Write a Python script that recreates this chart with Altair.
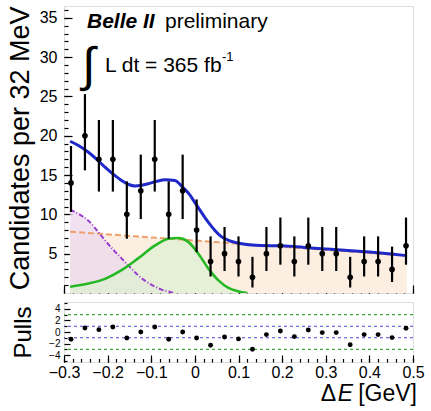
import altair as alt
import pandas as pd

FONT = "Liberation Sans"

# ---------------- values ----------------
bin_centers = [-0.284, -0.252, -0.220, -0.188, -0.156, -0.124, -0.092, -0.060, -0.028, 0.004,
               0.036, 0.068, 0.100, 0.132, 0.164, 0.196, 0.228, 0.260, 0.292, 0.324,
               0.356, 0.388, 0.420, 0.452, 0.484]
counts = [14, 20, 17, 17, 10, 13, 17, 10, 13, 8, 4, 5, 4, 2, 5, 6, 4, 6, 5, 5, 2, 4, 4, 3, 6]
err_low = [10.3, 15.6, 12.9, 12.9, 6.9, 9.4, 12.9, 6.9, 9.4, 5.2, 2.1, 2.8, 2.1, 0.7, 2.8,
           3.6, 2.1, 3.6, 2.8, 2.8, 0.7, 2.1, 2.1, 1.4, 3.6]
err_high = [18.7, 25.3, 22.0, 22.0, 14.2, 17.6, 22.0, 14.2, 17.6, 11.9, 7.2, 8.4, 7.2, 4.6, 8.4,
            9.6, 7.2, 9.6, 8.4, 8.4, 4.6, 7.2, 7.2, 5.9, 9.6]
pulls = [-1.26, 0.7, 0.41, 0.87, -1.03, 0.0, 0.87, -1.26, 0.0, -1.03, -2.3, -0.86, -1.2,
         -3.0, -0.45, 0.17, -0.8, 0.35, -0.1, -0.1, -2.2, -0.45, -0.45, -0.97, 0.64]

fit_x = [-0.286, -0.265, -0.244, -0.225, -0.206, -0.187, -0.168, -0.152, -0.137, -0.122,
         -0.107, -0.088, -0.068, -0.046, -0.027, -0.012, 0.0, 0.012, 0.023, 0.035, 0.046,
         0.06, 0.077, 0.095, 0.115, 0.15, 0.2, 0.25, 0.3, 0.35, 0.4, 0.45, 0.486]
fit_y = [19.3, 18.7, 17.9, 17.0, 16.0, 15.1, 14.3, 13.8, 13.6, 13.7, 13.9, 14.2, 14.4, 14.3,
         13.4, 12.5, 11.5, 10.5, 9.6, 8.7, 7.95, 7.2, 6.7, 6.4, 6.2, 6.05, 6.0, 5.8, 5.6, 5.4,
         5.2, 4.95, 4.75]
bkg_x = [-0.286, 0.486]
bkg_y = [7.8, 4.75]
peak_x = [-0.286, -0.265, -0.244, -0.225, -0.206, -0.187, -0.168, -0.149, -0.13, -0.11,
          -0.091, -0.075, -0.061, -0.05]
peak_y = [10.6, 10.0, 9.2, 8.0, 6.7, 5.5, 4.4, 3.3, 2.25, 1.4, 0.8, 0.4, 0.2, 0.05]
sig_x = [-0.286, -0.244, -0.206, -0.168, -0.13, -0.091, -0.061, -0.038, -0.015, 0.008,
         0.031, 0.054, 0.077, 0.1, 0.12]
sig_y = [0.8, 1.2, 1.8, 2.9, 4.4, 6.05, 6.9, 7.0, 6.5, 5.0, 3.1, 1.6, 0.65, 0.2, 0.0]

pull_lines_1 = [-1, 1]
pull_lines_3 = [-3, 3]

x_major = [-0.3, -0.2, -0.1, 0.0, 0.1, 0.2, 0.3, 0.4, 0.5]
x_minor = [-0.3, -0.28, -0.26, -0.24, -0.22, -0.2, -0.18, -0.16, -0.14, -0.12, -0.1, -0.08,
           -0.06, -0.04, -0.02, 0.0, 0.02, 0.04, 0.06, 0.08, 0.1, 0.12, 0.14, 0.16, 0.18, 0.2,
           0.22, 0.24, 0.26, 0.28, 0.3, 0.32, 0.34, 0.36, 0.38, 0.4, 0.42, 0.44, 0.46, 0.48, 0.5]
y_major = [5, 10, 15, 20, 25, 30, 35]
y_minor = [1, 2, 3, 4, 5, 6, 7, 8, 9, 10, 11, 12, 13, 14, 15, 16, 17, 18, 19, 20, 21, 22, 23,
           24, 25, 26, 27, 28, 29, 30, 31, 32, 33, 34, 35, 36]
pull_major = [-4, -2, 0, 2, 4]
pull_minor = [-5, -3, -1, 1, 3, 5]

label_belle = "Belle II"
label_prelim = "preliminary"
label_int = "∫"
label_lumi = "L dt = 365 fb"
label_sup = "-1"
y_title = "Candidates per 32 MeV"
pull_title = "Pulls"
x_title_delta = "Δ"
x_title_e = "E"
x_title_unit = "[GeV]"

# ---------------- tables ----------------
pts = pd.DataFrame({"x": bin_centers, "y": counts, "lo": err_low, "hi": err_high})
pull_df = pd.DataFrame({"x": bin_centers, "y": pulls})
fit_df = pd.DataFrame({"x": fit_x, "y": fit_y})
bkg_df = pd.DataFrame({"x": bkg_x, "y": bkg_y})
peak_df = pd.DataFrame({"x": peak_x, "y": peak_y})
sig_df = pd.DataFrame({"x": sig_x, "y": sig_y})

W, H, HP = 349, 287, 60

xs = alt.Scale(domain=[-0.3, 0.5], nice=False, zero=False)
ys = alt.Scale(domain=[0, 36.5], nice=False, zero=False)
ps = alt.Scale(domain=[-5.2, 5.2], nice=False, zero=False)

common = dict(domain=False, grid=False, tickColor="black", tickWidth=1.2,
              labelColor="black", labelFont=FONT, titleFont=FONT, titleColor="black",
              titleFontWeight="normal", labelOverlap=False, labelFlush=False)

top_x_axis = alt.Axis(values=x_major, labels=False, title=None, tickSize=8, offset=-8,
                      orient="bottom", **common)
top_x_minor = alt.Axis(values=x_minor, labels=False, title=None, tickSize=4, offset=-4,
                       orient="bottom", **common)
top_y_axis = alt.Axis(values=y_major, title=y_title, titleFontSize=27, titlePadding=5,
                      titleAnchor="end", labelFontSize=16, labelPadding=7, tickSize=8,
                      offset=-8, orient="left", **common)
top_y_minor = alt.Axis(values=y_minor, labels=False, title=None, tickSize=4, offset=-4,
                       orient="left", **common)


def X(axis):
    return alt.X("x:Q", scale=xs, axis=axis)


def Y(axis, field="y:Q"):
    return alt.Y(field, scale=ys, axis=axis)


bkg_area = alt.Chart(bkg_df).mark_area(color="#fcefe2", opacity=1, clip=True).encode(
    x=X(top_x_axis), y=Y(top_y_axis))
peak_area = alt.Chart(peak_df).mark_area(color="#ecd8ee", opacity=0.75, clip=True).encode(
    x=X(top_x_axis), y=Y(top_y_axis))
sig_area = alt.Chart(sig_df).mark_area(color="#dff0d2", opacity=0.75, clip=True).encode(
    x=X(top_x_axis), y=Y(top_y_axis))
bkg_line = alt.Chart(bkg_df).mark_line(color="#f0a068", strokeWidth=2, strokeDash=[6, 3],
                                       clip=True).encode(x=X(top_x_axis), y=Y(top_y_axis))
peak_line = alt.Chart(peak_df).mark_line(color="#9a3fd0", strokeWidth=2,
                                         strokeDash=[5, 2, 1, 2], interpolate="monotone",
                                         clip=True).encode(x=X(top_x_axis), y=Y(top_y_axis))
sig_line = alt.Chart(sig_df).mark_line(color="#25b825", strokeWidth=2.6,
                                       interpolate="monotone", clip=True).encode(
    x=X(top_x_axis), y=Y(top_y_axis))
fit_line = alt.Chart(fit_df).mark_line(color="#1f28c8", strokeWidth=3,
                                       interpolate="monotone", clip=True).encode(
    x=X(top_x_axis), y=Y(top_y_axis))
errbars = alt.Chart(pts).mark_rule(color="black", strokeWidth=2.2).encode(
    x=X(top_x_axis), y=Y(top_y_axis, "lo:Q"), y2="hi:Q")
points = alt.Chart(pts).mark_circle(color="black", size=32, opacity=1).encode(
    x=X(top_x_axis), y=Y(top_y_axis))

main = alt.layer(bkg_area, peak_area, sig_area, bkg_line, peak_line, sig_line, fit_line,
                 errbars, points)
minor = alt.Chart(pts).mark_point(opacity=0).encode(
    x=alt.X("x:Q", scale=xs, axis=top_x_minor), y=alt.Y("y:Q", scale=ys, axis=top_y_minor))


def txt(s, x, y, size, align="left", **kw):
    return alt.Chart(pd.DataFrame({"t": [s]})).mark_text(
        font=FONT, fontSize=size, align=align, baseline="alphabetic", color="black", **kw
    ).encode(text="t:N", x=alt.value(x), y=alt.value(y))


texts = [
    txt(label_belle, 23, 22, 21, fontWeight="bold", fontStyle="italic"),
    txt(label_prelim, 101, 22, 21),
    txt(label_int, 18, 75, 48),
    txt(label_lumi, 41, 66, 21),
    txt(label_sup, 158, 55, 13),
]

top = alt.layer(main, minor, *texts).resolve_axis(x="independent", y="independent").properties(
    width=W, height=H)

# ---------------- pull panel ----------------
bot_x_axis = alt.Axis(values=x_major, format=".1~f", title=None, tickSize=7, offset=-7,
                      labelFontSize=16, labelPadding=2, orient="bottom", **common)
bot_x_minor = alt.Axis(values=x_minor, labels=False, title=None, tickSize=3.5, offset=-3.5,
                       orient="bottom", **common)
bot_y_axis = alt.Axis(values=pull_major, title=pull_title, titleFontSize=24, titlePadding=13,
                      labelFontSize=10, labelPadding=4, tickSize=6, offset=-6, orient="left",
                      **common)
bot_y_minor = alt.Axis(values=pull_minor, labels=False, title=None, tickSize=3, offset=-3,
                       orient="left", **common)

rule1 = alt.Chart(pd.DataFrame({"y": pull_lines_1})).mark_rule(
    color="#4a4ad8", strokeWidth=1.2, strokeDash=[3, 3]).encode(
    y=alt.Y("y:Q", scale=ps, axis=bot_y_axis))
rule3 = alt.Chart(pd.DataFrame({"y": pull_lines_3})).mark_rule(
    color="#3ea83e", strokeWidth=1.2, strokeDash=[3, 3]).encode(
    y=alt.Y("y:Q", scale=ps, axis=bot_y_axis))
pull_pts = alt.Chart(pull_df).mark_circle(color="black", size=24, opacity=1).encode(
    x=alt.X("x:Q", scale=xs, axis=bot_x_axis), y=alt.Y("y:Q", scale=ps, axis=bot_y_axis))
pull_main = alt.layer(rule1, rule3, pull_pts)
pull_minor_l = alt.Chart(pull_df).mark_point(opacity=0).encode(
    x=alt.X("x:Q", scale=xs, axis=bot_x_minor), y=alt.Y("y:Q", scale=ps, axis=bot_y_minor))

xt = [
    txt(x_title_delta, 272, 99, 23, align="right"),
    txt(x_title_e, 289, 99, 23, align="right", fontStyle="italic"),
    txt(x_title_unit, 353, 99, 23, align="right"),
]

bottom = alt.layer(pull_main, pull_minor_l, *xt).resolve_axis(
    x="independent", y="independent").properties(width=W, height=HP)

chart = alt.vconcat(top, bottom, spacing=6).configure_view(
    stroke="black", strokeWidth=2.5).configure(font=FONT, background="white")

chart.save("out.html", embed_options={"renderer": "svg", "actions": False})
